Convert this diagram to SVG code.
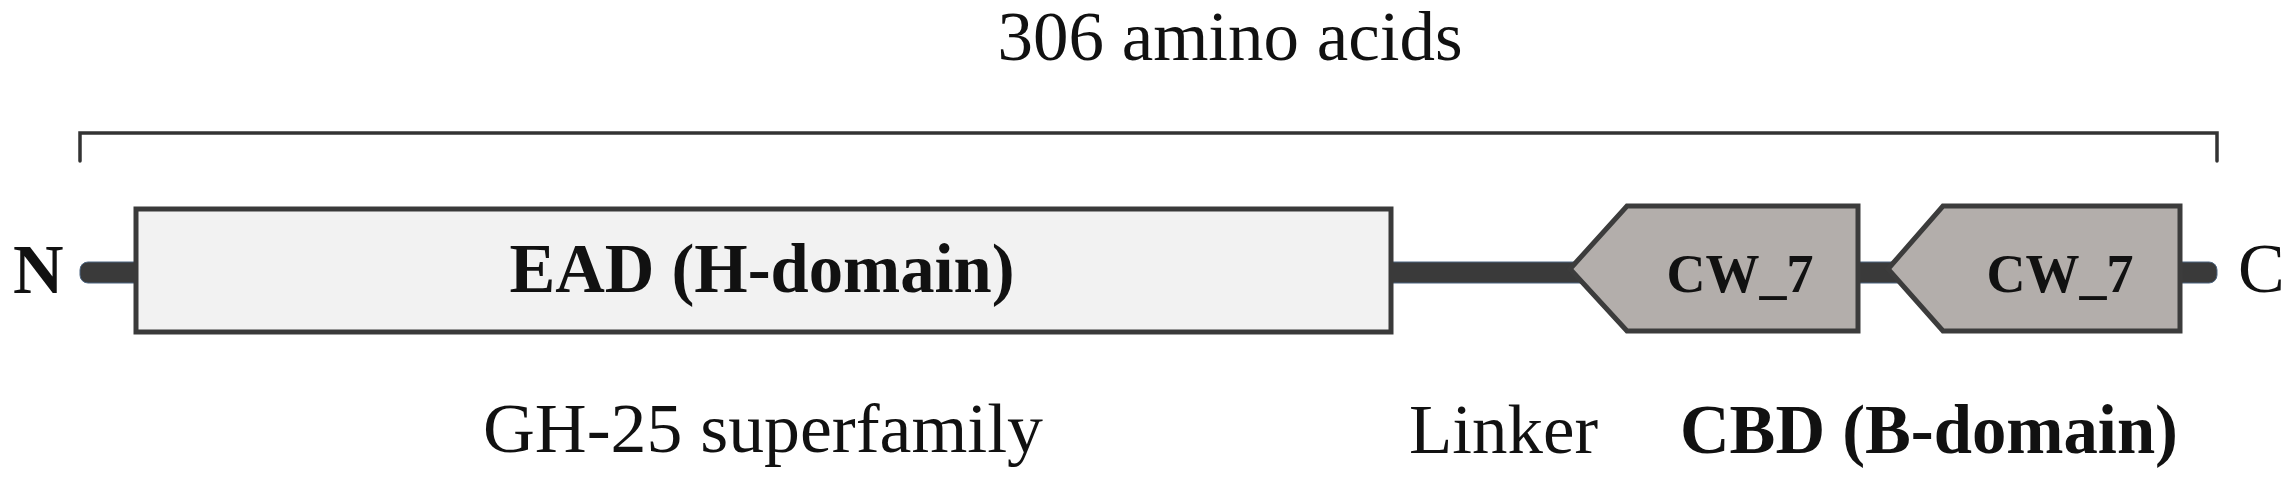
<svg xmlns="http://www.w3.org/2000/svg" width="2295" height="477" viewBox="0 0 2295 477">
<style>
  .t { font-family: "Liberation Serif", "Times New Roman", serif; fill: #111; }
  .b { font-weight: bold; }
  .bone { fill: #3a3a3a; stroke: #4d6580; stroke-width: 1; }
  .cw { fill: #b3aeab; stroke: #3c3c3c; stroke-width: 5; stroke-linejoin: miter; }
</style>
<rect width="2295" height="477" fill="#ffffff"/>
<g id="connectors">
  <path id="bracket" d="M80,161 V133 H2217 V161" fill="none" stroke="#333333" stroke-width="3.5" stroke-linecap="round"/>
  <rect id="backbone" class="bone" x="80" y="262" width="2137" height="21" rx="8" ry="8"/>
</g>
<g id="label-length">
  <text class="t" x="1230" y="60" font-size="70" text-anchor="middle" textLength="465" lengthAdjust="spacingAndGlyphs">306 amino acids</text>
</g>
<g id="terminus-N">
  <text class="t b" x="13" y="293" font-size="70">N</text>
</g>
<g id="terminus-C">
  <text class="t" x="2238" y="292" font-size="70">C</text>
</g>
<g id="ead">
  <rect x="136" y="209" width="1255" height="123" fill="#f2f2f2" stroke="#3a3a3a" stroke-width="5"/>
  <text class="t b" x="762" y="292" font-size="70" text-anchor="middle" textLength="505" lengthAdjust="spacingAndGlyphs">EAD (H-domain)</text>
</g>
<g id="cw7-1">
  <polygon class="cw" points="1570,269 1627,206 1858,206 1858,331 1627,331"/>
  <text class="t b" x="1740" y="292" font-size="54" text-anchor="middle">CW_7</text>
</g>
<g id="cw7-2">
  <polygon class="cw" points="1888,269 1943,206 2180,206 2180,331 1943,331"/>
  <text class="t b" x="2060" y="292" font-size="54" text-anchor="middle">CW_7</text>
</g>
<g id="label-gh25">
  <text class="t" x="763" y="452" font-size="70" text-anchor="middle" textLength="560" lengthAdjust="spacingAndGlyphs">GH-25 superfamily</text>
</g>
<g id="label-linker">
  <text class="t" x="1409" y="453" font-size="70" textLength="189" lengthAdjust="spacingAndGlyphs">Linker</text>
</g>
<g id="label-cbd">
  <text class="t b" x="1929" y="453" font-size="70" text-anchor="middle" textLength="498" lengthAdjust="spacingAndGlyphs">CBD (B-domain)</text>
</g>
</svg>
